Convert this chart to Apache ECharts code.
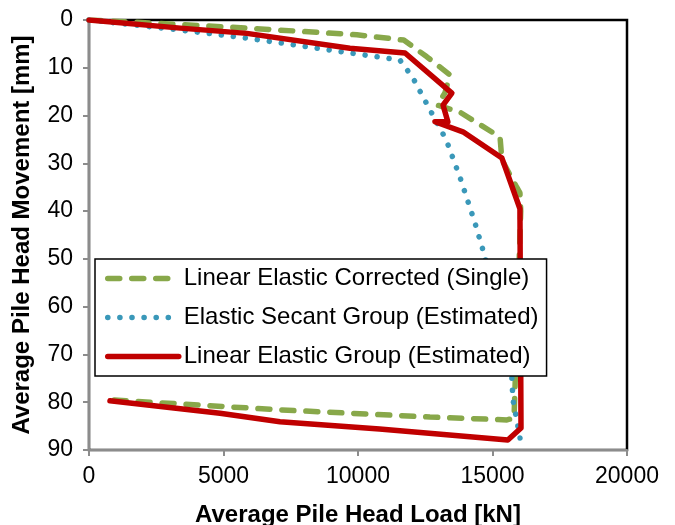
<!DOCTYPE html>
<html>
<head>
<meta charset="utf-8">
<script src="https://cdn.jsdelivr.net/npm/echarts@6/dist/echarts.min.js"></script>
<style>
  html, body { margin: 0; padding: 0; background: #fff; }
  #main { width: 675px; height: 525px; }
</style>
</head>
<body>
<div id="main"></div>
<script>
// values (load in kN, movement in mm)
var singleLoad = [0, 1500, 5900, 9960, 11700, 12560, 13420, 13230, 12940, 13790, 15280, 15350, 15900, 16020, 16050, 15800, 15540, 12675, 9700, 7100, 780];
var singleMove = [0, 0.4, 1.7, 3.1, 4.2, 7.7, 11.5, 15.3, 17.8, 19.3, 24.5, 29.3, 35, 36.2, 40, 83.3, 83.7, 83.1, 82.3, 81.6, 79.5];

var secantLoad = [0, 3380, 5870, 10700, 11560, 12040, 12675, 13120, 13306, 13790, 14350, 14720, 15720, 15760, 16020, 16060];
var secantMove = [0, 2.1, 3.8, 7.7, 8.4, 12.1, 18.8, 23.4, 25.5, 32.9, 42.5, 49.6, 74.9, 79.5, 87.3, 90];

var groupLoad = [0, 3400, 5870, 9700, 11750, 13490, 13160, 13340, 12860, 13900, 15350, 16020, 16060, 15570, 10800, 7100, 4870, 780];
var groupMove = [0, 1.7, 2.8, 5.9, 6.9, 15.3, 17.8, 21.3, 21.3, 23.4, 28.9, 39.5, 85.4, 87.9, 85.6, 84.1, 82.3, 79.7];

var names = ['Linear Elastic Corrected (Single)', 'Elastic Secant Group (Estimated)', 'Linear Elastic Group (Estimated)'];

function pairs(xs, ys) {
  var out = [];
  for (var i = 0; i < xs.length; i++) out.push([xs[i], ys[i]]);
  return out;
}

var font = '"Liberation Sans", Arial, sans-serif';
var myChart = echarts.init(document.getElementById('main'));

myChart.setOption({
  animation: false,
  grid: {
    left: 89, right: 48, top: 20, bottom: 75,
    outerBoundsMode: 'none', containLabel: false,
    show: true, borderColor: '#000', borderWidth: 2.5, backgroundColor: '#fff'
  },
  legend: {
    orient: 'vertical',
    left: 95, top: 259,
    padding: [6, 8, 6, 10],
    itemWidth: 71, itemHeight: 20, itemGap: 12,
    backgroundColor: '#fff',
    borderColor: '#000', borderWidth: 1.5,
    itemStyle: { opacity: 0 },
    textStyle: { fontFamily: font, fontSize: 24, color: '#000', lineHeight: 27 },
    data: [
      { name: names[0], lineStyle: { width: 5.5, type: [12, 12], cap: 'round' } },
      { name: names[1], lineStyle: { width: 5.5, type: [0.1, 12], cap: 'round' } },
      { name: names[2], lineStyle: { width: 5.5, cap: 'round' } }
    ]
  },
  xAxis: {
    type: 'value', min: 0, max: 20000, interval: 5000,
    name: 'Average Pile Head Load [kN]', nameLocation: 'middle', nameGap: 53,
    nameTextStyle: { fontFamily: font, fontSize: 24, fontWeight: 'bold', color: '#000' },
    axisLine: { show: true, onZero: false, lineStyle: { color: '#8c8c8c', width: 2 } },
    axisTick: { show: true, length: 6, lineStyle: { color: '#8c8c8c', width: 2 } },
    axisLabel: { fontFamily: font, fontSize: 23, color: '#000', margin: 15,
      formatter: function (v) { return String(v); } },
    splitLine: { show: false }
  },
  yAxis: {
    type: 'value', inverse: true, min: 0, max: 90, interval: 10,
    name: 'Average Pile Head Movement [mm]', nameLocation: 'middle', nameGap: 55,
    nameTextStyle: { fontFamily: font, fontSize: 24, fontWeight: 'bold', color: '#000' },
    axisLine: { show: true, onZero: false, lineStyle: { color: '#8c8c8c', width: 2 } },
    axisTick: { show: true, length: 6, lineStyle: { color: '#8c8c8c', width: 2 } },
    axisLabel: { fontFamily: font, fontSize: 23, color: '#000', margin: 16 },
    splitLine: { show: false }
  },
  series: [
    {
      name: names[0], type: 'line', symbol: 'none',
      data: pairs(singleLoad, singleMove),
      lineStyle: { color: '#88a84a', width: 5.5, type: [12, 12], cap: 'round' },
      itemStyle: { color: '#88a84a' }
    },
    {
      name: names[1], type: 'line', symbol: 'none',
      data: pairs(secantLoad, secantMove),
      lineStyle: { color: '#3a98b9', width: 5.5, type: [0.1, 12], cap: 'round' },
      itemStyle: { color: '#3a98b9' }
    },
    {
      name: names[2], type: 'line', symbol: 'none',
      data: pairs(groupLoad, groupMove),
      lineStyle: { color: '#c00000', width: 5.5, cap: 'round', join: 'round' },
      itemStyle: { color: '#c00000' }
    }
  ]
});
</script>
</body>
</html>
